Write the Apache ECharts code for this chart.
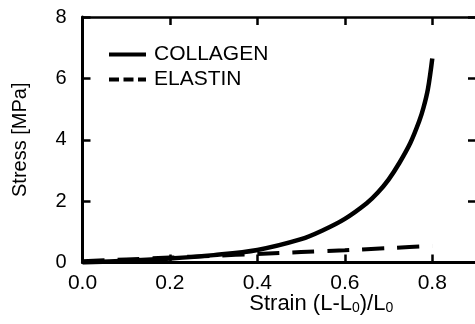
<!DOCTYPE html>
<html>
<head>
<meta charset="utf-8">
<script src="https://cdn.jsdelivr.net/npm/echarts@6/dist/echarts.min.js"></script>
<style>
  html, body { margin: 0; padding: 0; background: #fff; }
  #chart { width: 475px; height: 324px; }
</style>
</head>
<body>
<div id="chart"></div>
<script>
// collagen curve
var collagenStrain = [0, 0.1, 0.2, 0.3, 0.4, 0.5, 0.55, 0.6, 0.65, 0.675, 0.7, 0.725, 0.75, 0.77, 0.78, 0.79, 0.8];
var collagenStress = [0, 0.06, 0.13, 0.24, 0.41, 0.76, 1.05, 1.42, 1.93, 2.27, 2.7, 3.25, 3.9, 4.6, 5.05, 5.65, 6.65];

// elastin curve
var elastinStrain = [0, 0.1, 0.2, 0.3, 0.4, 0.5, 0.6, 0.7, 0.8];
var elastinStress = [0.04, 0.1, 0.16, 0.22, 0.28, 0.34, 0.40, 0.47, 0.54];

// ticks
var xTicks = [0, 0.2, 0.4, 0.6, 0.8];
var yTicks = [0, 2, 4, 6, 8];

function pairs(xs, ys) {
    return xs.map(function (x, i) { return [x, ys[i]]; });
}

var font = 'Liberation Sans, Arial, sans-serif';
var myChart = echarts.init(document.getElementById('chart'));

function ticks(values) {
    return { show: true, inside: true, length: 8, customValues: values, lineStyle: { color: '#000', width: 2.5 } };
}

var option = {
    animation: false,
    grid: { left: 82.5, right: -1, top: 17, bottom: 61.5, outerBoundsMode: 'none', containLabel: false },
    legend: {
        orient: 'vertical',
        left: 107,
        top: 44,
        padding: 0,
        itemWidth: 37,
        itemHeight: 14,
        itemGap: 4,
        itemStyle: { opacity: 0 },
        textStyle: { fontFamily: font, fontSize: 21, color: '#000', lineHeight: 20, padding: [0, 0, 0, 3] },
        data: [
            { name: 'COLLAGEN', lineStyle: { width: 4 } },
            { name: 'ELASTIN', lineStyle: { width: 4, type: [10, 4.5] } }
        ]
    },
    xAxis: [
        {
            type: 'value', min: 0, max: 0.9, position: 'bottom',
            name: 'Strain (L-L{sub|0})/L{sub|0}',
            nameLocation: 'middle',
            nameGap: 29,
            nameMoveOverlap: false,
            nameTextStyle: {
                fontFamily: font, fontSize: 22, color: '#000',
                padding: [0, 0, 0, 84],
                rich: {
                    sub: { fontFamily: font, fontSize: 14, color: '#000', verticalAlign: 'bottom', padding: [10, 0, 0, 0] }
                }
            },
            axisLine: { onZero: false, lineStyle: { color: '#000', width: 3 } },
            axisTick: ticks(xTicks),
            axisLabel: {
                customValues: xTicks, margin: 10,
                fontFamily: font, fontSize: 21, color: '#000',
                formatter: function (v) { return v.toFixed(1); }
            },
            splitLine: { show: false }
        },
        {
            type: 'value', min: 0, max: 0.9, position: 'top',
            axisLine: { show: true, onZero: false, lineStyle: { color: '#000', width: 2.5 } },
            axisTick: ticks(xTicks),
            axisLabel: { show: false },
            splitLine: { show: false }
        }
    ],
    yAxis: [
        {
            type: 'value', min: 0, max: 8, interval: 2, position: 'left',
            name: 'Stress [MPa]',
            nameLocation: 'middle',
            nameGap: 52,
            nameTextStyle: { fontFamily: font, fontSize: 20, color: '#000' },
            axisLine: { show: true, onZero: false, lineStyle: { color: '#000', width: 3 } },
            axisTick: ticks(yTicks),
            axisLabel: { margin: 16, fontFamily: font, fontSize: 20, color: '#000' },
            splitLine: { show: false }
        },
        {
            type: 'value', min: 0, max: 8, interval: 2, position: 'right',
            axisLine: { show: true, onZero: false, lineStyle: { color: '#999', width: 1 } },
            axisTick: ticks(yTicks),
            axisLabel: { show: false },
            splitLine: { show: false }
        }
    ],
    series: [
        {
            name: 'COLLAGEN', type: 'line', showSymbol: false, symbol: 'none',
            smooth: 0.35,
            data: pairs(collagenStrain, collagenStress),
            lineStyle: { color: '#000', width: 4.5 },
            itemStyle: { color: '#000' }
        },
        {
            name: 'ELASTIN', type: 'line', showSymbol: false, symbol: 'none',
            smooth: 0.2,
            data: pairs(elastinStrain, elastinStress),
            lineStyle: { color: '#000', width: 4, type: [22, 13] },
            itemStyle: { color: '#000' }
        }
    ]
};

myChart.setOption(option);
</script>
</body>
</html>
